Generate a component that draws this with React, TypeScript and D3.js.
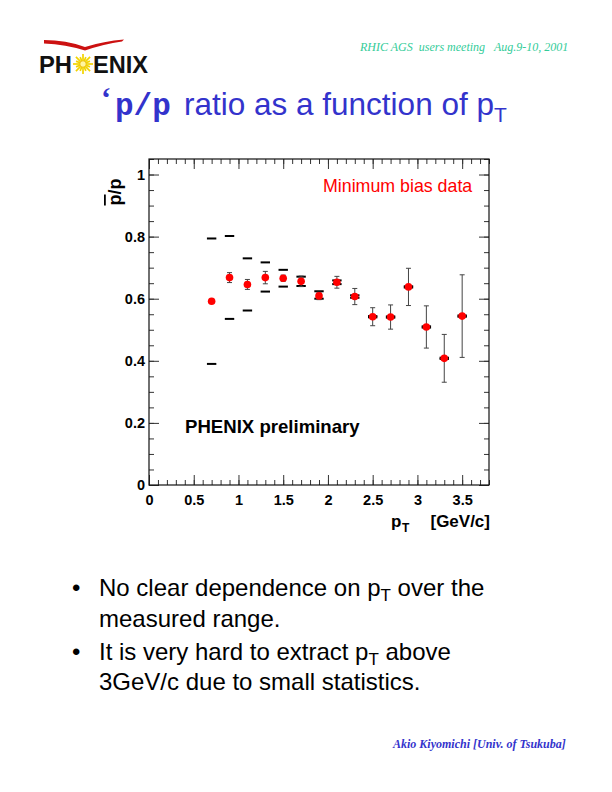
import { useEffect, useRef } from 'react';
import * as d3 from 'd3';

// pbar/p ratio vs pT, minimum bias
const PT = [0.7, 0.9, 1.1, 1.3, 1.5, 1.7, 1.9, 2.1, 2.3, 2.5, 2.7, 2.9, 3.1, 3.3, 3.5];
const RATIO = [0.592, 0.668, 0.646, 0.668, 0.666, 0.656, 0.609, 0.653, 0.607, 0.542, 0.541, 0.638, 0.509, 0.408, 0.544];
const STAT_ERR = [0.006, 0.016, 0.016, 0.02, 0.01, 0.017, 0.012, 0.019, 0.026, 0.029, 0.039, 0.06, 0.068, 0.077, 0.133];
const SYS_LOW = [0.39, 0.535, 0.562, 0.623, 0.639, 0.641, 0.6, 0.647, 0.603, 0.54, 0.539, 0.636, 0.507, 0.406, 0.542];
const SYS_HIGH = [0.794, 0.802, 0.73, 0.717, 0.693, 0.671, 0.624, 0.659, 0.611, 0.544, 0.543, 0.64, 0.511, 0.41, 0.546];

const X_TICKS = [0, 0.5, 1, 1.5, 2, 2.5, 3, 3.5];
const Y_TICKS = [0, 0.2, 0.4, 0.6, 0.8, 1];

const BULLET_LINES = [
  { bullet: true, pre: 'No clear dependence on p', sub: 'T', post: ' over the' },
  { bullet: false, pre: 'measured range.', sub: '', post: '' },
  { bullet: true, pre: 'It is very hard to extract p', sub: 'T', post: ' above' },
  { bullet: false, pre: '3GeV/c due to small statistics.', sub: '', post: '' },
];

const SANS = 'Liberation Sans, Arial, Helvetica, sans-serif';
const SERIF = 'Liberation Serif, Times New Roman, serif';
const BLUE = '#3333cc';

export default function App() {
  const svgRef = useRef<SVGSVGElement | null>(null);

  useEffect(() => {
    if (!svgRef.current) return;
    const svg = d3.select(svgRef.current);
    svg.selectAll('*').remove();

    // ---- slide header ----
    svg.append('text')
      .attr('x', 360).attr('y', 51)
      .style('white-space', 'pre')
      .attr('font-family', SERIF).attr('font-style', 'italic').attr('font-size', 12)
      .attr('fill', '#33cc99')
      .text('RHIC AGS  users meeting   Aug.9-10, 2001');

    // logo
    const logo = svg.append('g');
    logo.append('path')
      .attr('d', 'M44,40 Q66,40 85,47 Q104,41 124,39.5 L122,41.5 Q104,44 85,50.5 Q66,44.5 44,43.5 Z')
      .attr('fill', '#cc1111');
    logo.append('text')
      .attr('x', 39).attr('y', 72.5)
      .attr('font-family', SANS).attr('font-weight', 'bold').attr('font-size', 23)
      .attr('textLength', 33).attr('lengthAdjust', 'spacingAndGlyphs')
      .attr('fill', '#111').text('PH');
    logo.append('text')
      .attr('x', 93).attr('y', 72.5)
      .attr('font-family', SANS).attr('font-weight', 'bold').attr('font-size', 23)
      .attr('textLength', 55).attr('lengthAdjust', 'spacingAndGlyphs')
      .attr('fill', '#111').text('ENIX');
    const sun = logo.append('g').attr('transform', 'translate(83,64)');
    d3.range(16).forEach(i => {
      const a = (i / 16) * Math.PI * 2;
      sun.append('line')
        .attr('x1', 2 * Math.cos(a)).attr('y1', 2 * Math.sin(a))
        .attr('x2', (i % 2 ? 7.5 : 10) * Math.cos(a)).attr('y2', (i % 2 ? 7.5 : 10) * Math.sin(a))
        .attr('stroke', '#f2d400').attr('stroke-width', 1.7);
    });
    sun.append('circle').attr('r', 3.2).attr('fill', '#fff6a0').attr('stroke', '#e8b800').attr('stroke-width', 0.8);

    // title
    const title = svg.append('text').attr('fill', BLUE).style('white-space', 'pre');
    title.append('tspan').attr('x', 101).attr('y', 108)
      .attr('font-family', SERIF).attr('font-weight', 'bold').attr('font-size', 30).text('\u2018');
    title.append('tspan').attr('x', 115).attr('y', 115)
      .attr('font-family', 'Liberation Mono, Courier New, monospace').attr('font-weight', 'bold').attr('font-size', 31)
      .text('p/p');
    title.append('tspan').attr('x', 184).attr('y', 115)
      .attr('font-family', SANS).attr('font-size', 31.5).text('ratio as a function of p');
    title.append('tspan').attr('dy', 7)
      .attr('font-family', SANS).attr('font-size', 21).text('T');

    // ---- plot ----
    const frame = { left: 149, right: 489, top: 159, bottom: 485 };
    const x = d3.scaleLinear().domain([0, 3.8]).range([frame.left, frame.right]);
    const y = d3.scaleLinear().domain([0, 1.05]).range([frame.bottom, frame.top]);

    const xMinor = d3.range(0, 39).map(i => i / 10);
    const yMinor = d3.range(0, 22).map(i => i / 20);

    const styleAxis = (g: any) => {
      g.select('.domain').remove();
      g.selectAll('line').attr('stroke', '#333').attr('stroke-width', 1);
      g.selectAll('text')
        .attr('font-family', SANS).attr('font-weight', 'bold').attr('font-size', 14.5).attr('fill', '#000');
    };

    // bottom
    svg.append('g').attr('transform', `translate(0,${frame.bottom})`)
      .call(d3.axisBottom(x).tickValues(xMinor).tickSizeInner(-5).tickSizeOuter(0).tickFormat(() => ''))
      .call(styleAxis);
    svg.append('g').attr('transform', `translate(0,${frame.bottom})`)
      .call(d3.axisBottom(x).tickValues(X_TICKS).tickSizeInner(-10).tickSizeOuter(0).tickPadding(10)
        .tickFormat(d => String(d)))
      .call(styleAxis);
    // top
    svg.append('g').attr('transform', `translate(0,${frame.top})`)
      .call(d3.axisTop(x).tickValues(xMinor).tickSizeInner(-5).tickSizeOuter(0).tickFormat(() => ''))
      .call(styleAxis);
    svg.append('g').attr('transform', `translate(0,${frame.top})`)
      .call(d3.axisTop(x).tickValues(X_TICKS).tickSizeInner(-10).tickSizeOuter(0).tickFormat(() => ''))
      .call(styleAxis);
    // left
    svg.append('g').attr('transform', `translate(${frame.left},0)`)
      .call(d3.axisLeft(y).tickValues(yMinor).tickSizeInner(-5).tickSizeOuter(0).tickFormat(() => ''))
      .call(styleAxis);
    svg.append('g').attr('transform', `translate(${frame.left},0)`)
      .call(d3.axisLeft(y).tickValues(Y_TICKS).tickSizeInner(-10).tickSizeOuter(0).tickPadding(4)
        .tickFormat(d => String(d)))
      .call(styleAxis);
    // right
    svg.append('g').attr('transform', `translate(${frame.right},0)`)
      .call(d3.axisRight(y).tickValues(yMinor).tickSizeInner(-5).tickSizeOuter(0).tickFormat(() => ''))
      .call(styleAxis);
    svg.append('g').attr('transform', `translate(${frame.right},0)`)
      .call(d3.axisRight(y).tickValues(Y_TICKS).tickSizeInner(-10).tickSizeOuter(0).tickFormat(() => ''))
      .call(styleAxis);

    svg.append('rect')
      .attr('x', frame.left).attr('y', frame.top)
      .attr('width', frame.right - frame.left).attr('height', frame.bottom - frame.top)
      .attr('fill', 'none').attr('stroke', '#111').attr('stroke-width', 1.2);

    // axis titles
    const yTitle = svg.append('text')
      .attr('transform', 'translate(121,192) rotate(-90)')
      .attr('text-anchor', 'middle')
      .attr('font-family', SANS).attr('font-weight', 'bold').attr('font-size', 18);
    yTitle.append('tspan').style('text-decoration', 'overline').text('p');
    yTitle.append('tspan').text('/p');

    svg.append('text').attr('x', 391).attr('y', 527)
      .attr('font-family', SANS).attr('font-weight', 'bold').attr('font-size', 17).text('p');
    svg.append('text').attr('x', 402).attr('y', 532)
      .attr('font-family', SANS).attr('font-weight', 'bold').attr('font-size', 12).text('T');
    svg.append('text').attr('x', 490).attr('y', 527).attr('text-anchor', 'end')
      .attr('font-family', SANS).attr('font-weight', 'bold').attr('font-size', 17).text('[GeV/c]');

    // in-plot labels
    svg.append('text').attr('x', 323).attr('y', 192)
      .attr('font-family', SANS).attr('font-size', 17.8).attr('fill', '#ff0000').text('Minimum bias data');
    svg.append('text').attr('x', 185).attr('y', 433)
      .attr('font-family', SANS).attr('font-weight', 'bold').attr('font-size', 18.6).text('PHENIX preliminary');

    const idx = d3.range(PT.length);

    // systematic error ticks
    const sys = svg.append('g').attr('stroke', '#000').attr('stroke-width', 2);
    idx.forEach(i => {
      [SYS_LOW[i], SYS_HIGH[i]].forEach(v => {
        sys.append('line')
          .attr('x1', x(PT[i]) - 4.7).attr('x2', x(PT[i]) + 4.7)
          .attr('y1', y(v)).attr('y2', y(v));
      });
    });

    // statistical error bars
    const stat = svg.append('g').attr('stroke', '#444').attr('stroke-width', 1);
    idx.forEach(i => {
      const cx = x(PT[i]);
      const lo = y(RATIO[i] - STAT_ERR[i]);
      const hi = y(RATIO[i] + STAT_ERR[i]);
      stat.append('line').attr('x1', cx).attr('x2', cx).attr('y1', lo).attr('y2', hi);
      stat.append('line').attr('x1', cx - 2.5).attr('x2', cx + 2.5).attr('y1', lo).attr('y2', lo);
      stat.append('line').attr('x1', cx - 2.5).attr('x2', cx + 2.5).attr('y1', hi).attr('y2', hi);
    });

    // data markers
    svg.append('g').selectAll('circle')
      .data(idx)
      .enter()
      .append('circle')
      .attr('cx', i => x(PT[i]))
      .attr('cy', i => y(RATIO[i]))
      .attr('r', 3.8)
      .attr('fill', '#ff0000');

    // ---- bullets ----
    BULLET_LINES.forEach((line, k) => {
      const base = [596, 627, 660, 690][k];
      if (line.bullet) {
        svg.append('text').attr('x', 72).attr('y', base)
          .attr('font-family', SANS).attr('font-size', 24).text('\u2022');
      }
      const t = svg.append('text').attr('x', 99).attr('y', base)
        .style('white-space', 'pre')
        .attr('font-family', SANS).attr('font-size', 24).attr('fill', '#000');
      t.append('tspan').text(line.pre);
      if (line.sub) {
        t.append('tspan').attr('dy', 5).attr('font-size', 17).text(line.sub);
        t.append('tspan').attr('dy', -5).text(line.post);
      }
    });

    // footer
    svg.append('text')
      .attr('x', 393).attr('y', 748)
      .attr('font-family', SERIF).attr('font-style', 'italic').attr('font-weight', 'bold').attr('font-size', 12)
      .attr('fill', BLUE)
      .text('Akio Kiyomichi [Univ. of Tsukuba]');
  }, []);

  return (
    <svg
      ref={svgRef}
      width={612}
      height={792}
      style={{ position: 'absolute', left: 0, top: 0, background: '#fff' }}
    />
  );
}
